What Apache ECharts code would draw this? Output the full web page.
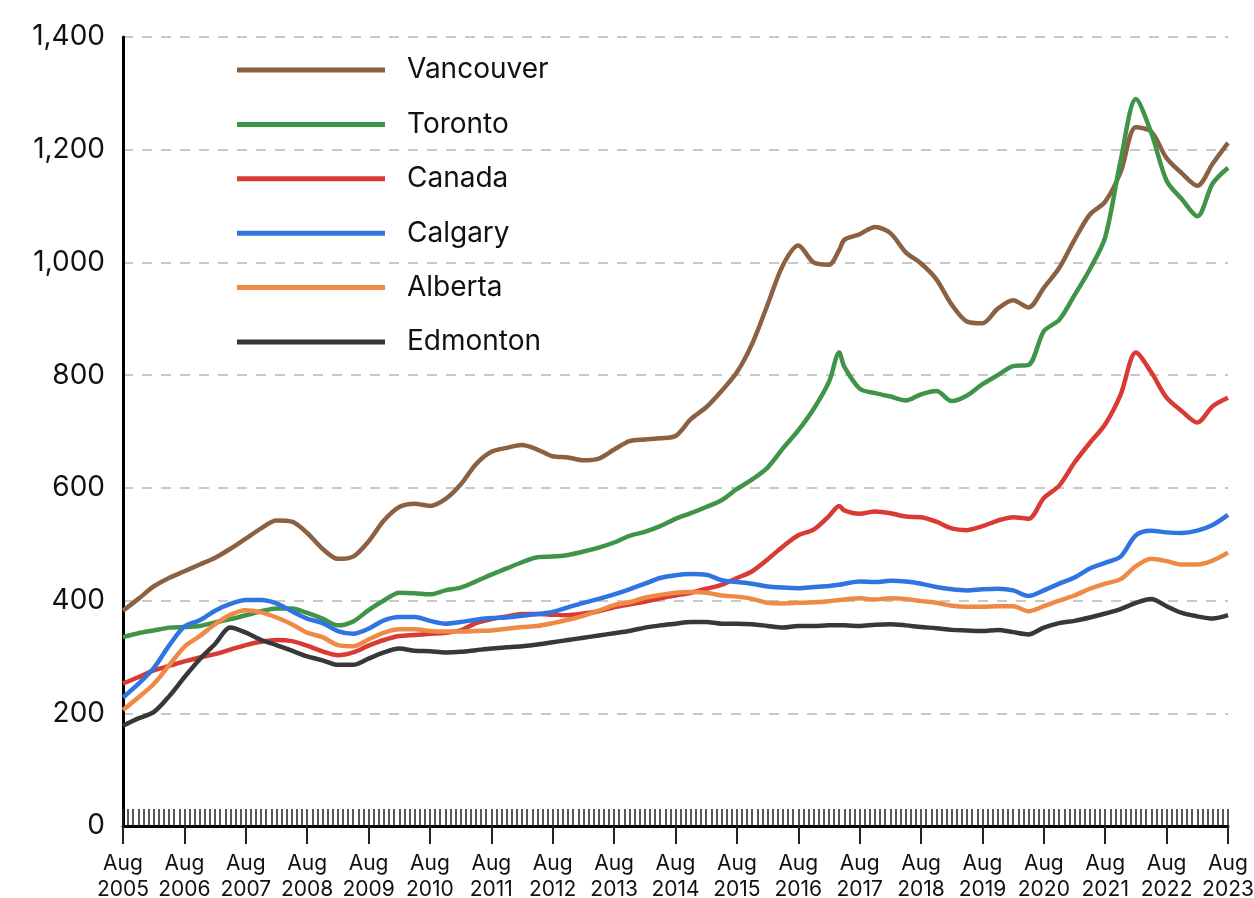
<!DOCTYPE html>
<html>
<head>
<meta charset="utf-8">
<script src="https://cdn.jsdelivr.net/npm/echarts@6/dist/echarts.min.js"></script>
<style>
html,body{margin:0;padding:0;background:#fff;}
#chart{width:1254px;height:898px;}
</style>
</head>
<body>
<div id="chart"></div>
<script>
// Months since Aug 2005
const months = [0,3,6,9,12,15,18,21,24,27,30,33,36,39,42,45,48,51,54,57,60,63,66,69,72,75,78,81,84,87,90,93,96,99,102,105,108,111,114,117,120,123,126,129,132,135,138,140,141,144,147,150,153,156,159,162,165,168,171,174,177,180,183,186,189,192,195,198,201,204,207,210,213,216];

const vancouver = [382,403,425,440,452,464,476,492,510,528,542,540,520,492,474,478,505,542,566,572,568,580,606,642,664,671,676,668,656,654,649,652,668,683,686,688,692,722,743,772,805,856,925,995,1030,1000,996,1022,1040,1050,1063,1052,1018,998,970,925,895,892,918,933,920,955,990,1040,1085,1108,1160,1240,1232,1185,1158,1136,1175,1212];
const toronto = [335,342,347,352,353,355,361,367,374,381,386,386,378,368,356,363,383,400,414,413,411,418,423,434,446,457,468,477,478,481,487,494,503,515,522,532,545,555,566,578,598,615,636,670,702,740,788,840,815,776,768,762,755,766,772,754,764,784,800,816,818,878,898,942,988,1045,1180,1290,1230,1145,1112,1082,1140,1168];
const canada = [253,264,276,284,292,299,305,313,321,327,330,328,320,310,303,308,320,330,337,339,341,343,347,360,367,372,376,376,375,374,377,381,388,393,398,404,409,414,421,428,440,452,473,496,516,526,550,568,560,554,558,555,549,548,540,528,525,532,542,548,545,582,604,645,680,713,765,840,805,760,736,716,745,760];
const calgary = [228,252,280,320,354,365,382,394,401,401,395,381,368,360,346,341,350,365,371,371,364,359,362,366,369,370,373,376,380,388,396,403,411,420,430,440,445,447,446,436,433,430,425,423,422,424,426,428,430,434,433,435,434,430,424,420,418,420,421,418,408,418,430,441,457,467,478,516,524,521,520,524,534,552];
const alberta = [206,228,252,285,318,337,358,375,383,379,370,358,343,335,321,319,331,343,349,349,346,345,345,346,347,350,353,355,360,366,373,382,392,397,405,410,414,415,414,409,407,403,396,395,396,397,399,401,402,404,402,404,403,399,396,391,389,389,390,390,381,390,400,409,421,430,438,461,474,470,464,464,471,485];
const edmonton = [178,191,202,230,264,296,323,352,343,330,321,311,301,294,286,286,297,308,315,311,310,308,309,312,315,317,319,322,326,330,334,338,342,346,352,356,359,362,362,359,359,358,355,352,355,355,356,356,356,355,357,358,356,353,351,348,347,346,348,344,340,352,360,364,370,377,385,396,403,390,378,372,368,374];

const xLabels = ['Aug\n2005','Aug\n2006','Aug\n2007','Aug\n2008','Aug\n2009','Aug\n2010','Aug\n2011','Aug\n2012','Aug\n2013','Aug\n2014','Aug\n2015','Aug\n2016','Aug\n2017','Aug\n2018','Aug\n2019','Aug\n2020','Aug\n2021','Aug\n2022','Aug\n2023'];
const seriesNames = ['Vancouver','Toronto','Canada','Calgary','Alberta','Edmonton'];
const seriesColors = ['#8b6142','#3f9447','#d93a33','#2f74e0','#ee8a45','#383838'];
const seriesValues = [vancouver, toronto, canada, calgary, alberta, edmonton];

const FONT = 'Inter, "Noto Sans", sans-serif';
const chart = echarts.init(document.getElementById('chart'), null, {renderer:'canvas'});

const series = seriesNames.map((name, i) => ({
  name: name,
  type: 'line',
  xAxisIndex: 0,
  yAxisIndex: 0,
  data: months.map((m, j) => [m, seriesValues[i][j]]),
  showSymbol: false,
  symbol: 'none',
  smooth: 0.3,
  lineStyle: {width: 4.5, color: seriesColors[i]},
  itemStyle: {color: seriesColors[i]},
  z: 3
}));

chart.setOption({
  animation: false,
  backgroundColor: '#ffffff',
  grid: {left: 123, right: 26, top: 37, bottom: 72, containLabel: false, outerBoundsMode: 'none'},
  legend: {
    orient: 'vertical',
    left: 237,
    top: 55,
    padding: 0,
    itemWidth: 148,
    itemHeight: 5,
    itemGap: 24.4,
    icon: 'rect',
    data: seriesNames,
    textStyle: {fontFamily: FONT, fontSize: 28, color: '#111', lineHeight: 30, padding: [0,0,0,17]}
  },
  xAxis: [
    {
      type: 'value', min: 0, max: 216, interval: 12,
      position: 'bottom',
      axisLine: {show: true, onZero: false, lineStyle: {color: '#000', width: 3}},
      axisTick: {show: true, inside: false, length: 18, lineStyle: {color: '#222', width: 2}},
      axisLabel: {
        show: true, margin: 25, fontFamily: FONT, fontSize: 21, color: '#111', lineHeight: 26,
        formatter: v => xLabels[Math.round(v / 12)] || ''
      },
      splitLine: {show: false}
    },
    {
      type: 'value', min: 0, max: 216, interval: 1,
      position: 'bottom',
      axisLine: {show: false},
      axisTick: {show: true, inside: true, length: 17, lineStyle: {color: '#222', width: 1.5}},
      axisLabel: {show: false},
      splitLine: {show: false}
    }
  ],
  yAxis: {
    type: 'value', min: 0, max: 1400, interval: 200,
    axisLine: {show: true, lineStyle: {color: '#000', width: 3}},
    axisTick: {show: false},
    axisLabel: {
      margin: 18, fontFamily: FONT, fontSize: 28, color: '#111',
      formatter: v => v.toLocaleString('en-US')
    },
    splitLine: {show: true, lineStyle: {color: '#c8c8c8', width: 2, type: [10, 9]}}
  },
  series: series
});
</script>
</body>
</html>
